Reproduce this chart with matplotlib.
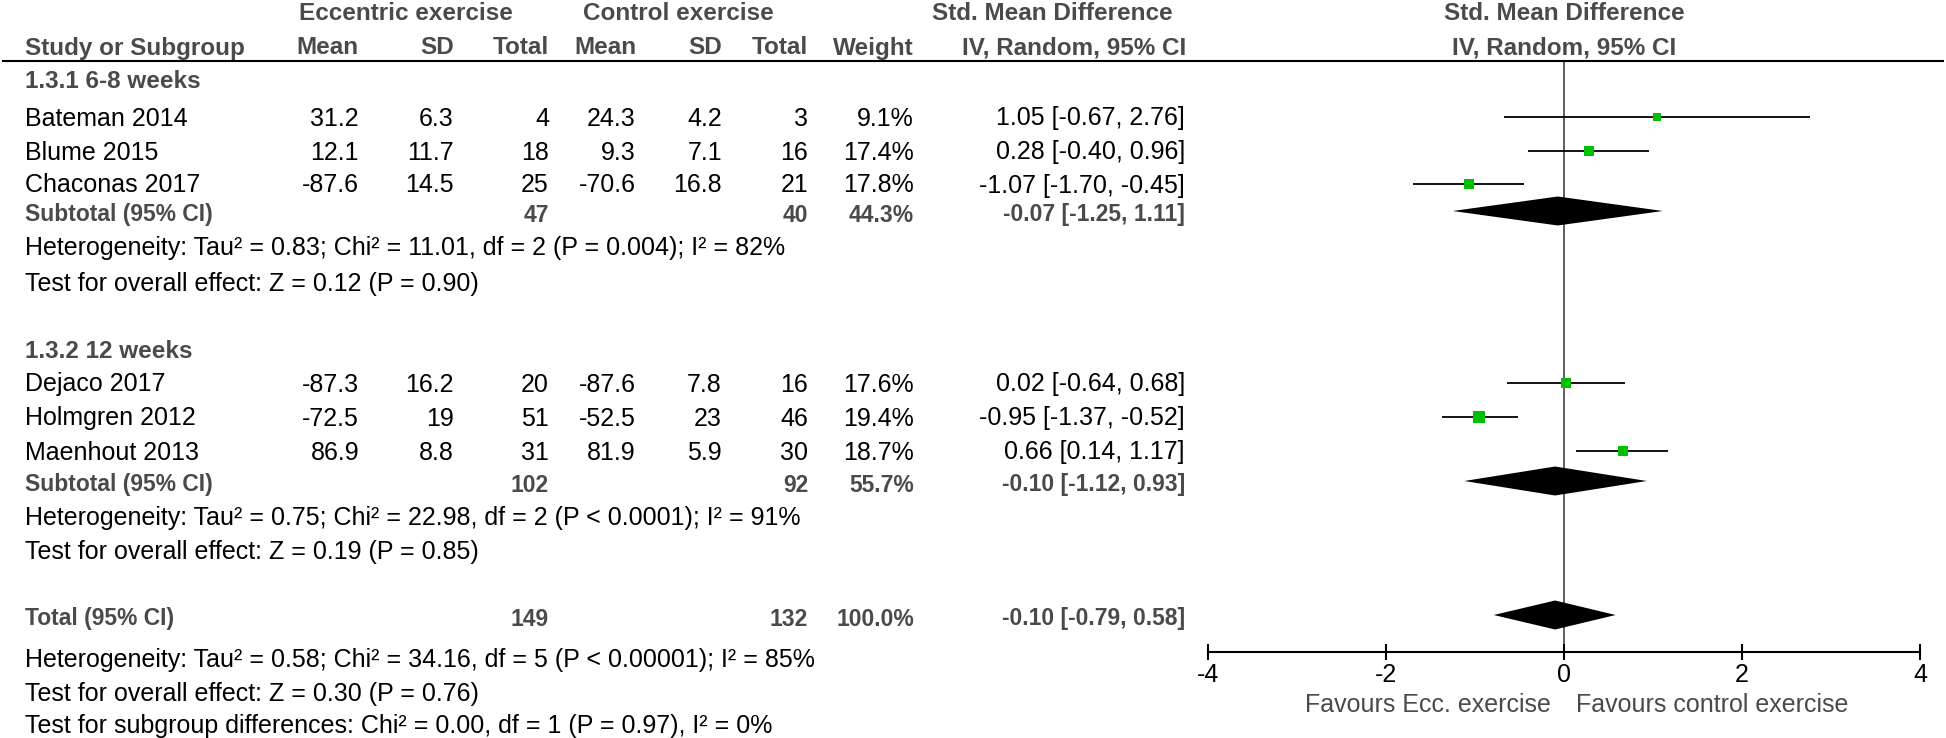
import matplotlib.pyplot as plt

plt.rcParams['font.family'] = ['Liberation Sans', 'DejaVu Sans']
plt.rcParams['axes.unicode_minus'] = False

# study data
studies = ["Bateman 2014", "Blume 2015", "Chaconas 2017",
           "Dejaco 2017", "Holmgren 2012", "Maenhout 2013"]
ecc_mean = [31.2, 12.1, -87.6, -87.3, -72.5, 86.9]
ecc_sd = [6.3, 11.7, 14.5, 16.2, 19, 8.8]
ecc_n = [4, 18, 25, 20, 51, 31]
ctl_mean = [24.3, 9.3, -70.6, -87.6, -52.5, 81.9]
ctl_sd = [4.2, 7.1, 16.8, 7.8, 23, 5.9]
ctl_n = [3, 16, 21, 16, 46, 30]
weight = [9.1, 17.4, 17.8, 17.6, 19.4, 18.7]
smd = [1.05, 0.28, -1.07, 0.02, -0.95, 0.66]
ci_lo = [-0.67, -0.40, -1.70, -0.64, -1.37, 0.14]
ci_hi = [2.76, 0.96, -0.45, 0.68, -0.52, 1.17]

# subtotals and total
pooled_labels = ["Subtotal (95% CI)", "Subtotal (95% CI)", "Total (95% CI)"]
pooled_ecc_n = [47, 102, 149]
pooled_ctl_n = [40, 92, 132]
pooled_weight = [44.3, 55.7, 100.0]
pooled_smd = [-0.07, -0.10, -0.10]
pooled_lo = [-1.25, -1.12, -0.79]
pooled_hi = [1.11, 0.93, 0.58]

groups = ["1.3.1 6-8 weeks", "1.3.2 12 weeks"]
notes = [
    "Heterogeneity: Tau\u00b2 = 0.83; Chi\u00b2 = 11.01, df = 2 (P = 0.004); I\u00b2 = 82%",
    "Test for overall effect: Z = 0.12 (P = 0.90)",
    "Heterogeneity: Tau\u00b2 = 0.75; Chi\u00b2 = 22.98, df = 2 (P < 0.0001); I\u00b2 = 91%",
    "Test for overall effect: Z = 0.19 (P = 0.85)",
    "Heterogeneity: Tau\u00b2 = 0.58; Chi\u00b2 = 34.16, df = 5 (P < 0.00001); I\u00b2 = 85%",
    "Test for overall effect: Z = 0.30 (P = 0.76)",
    "Test for subgroup differences: Chi\u00b2 = 0.00, df = 1 (P = 0.97), I\u00b2 = 0%",
]
ticks = [-4, -2, 0, 2, 4]

# layout (pixel rows / columns)
study_y = [117, 151, 184, 383, 417, 451]
pooled_y = [213, 483, 617]
group_y = [79, 350]
note_y = [247, 282, 516, 551, 658, 692, 725]
col_x = [359, 454, 549, 636, 722, 808, 914, 1185]

FS = 18
FS_HEAD = 17.5
FS_SUB = 16.5
GREY = '#4a4a4a'
GREEN = '#00c000'

fig = plt.figure(figsize=(19.46, 7.38), dpi=100)
ax = fig.add_axes([0, 0, 1, 1])
ax.set_xlim(0, 1946)
ax.set_ylim(738, 0)
ax.axis('off')


def put(x, y, s, ha='left', bold=False, color=None, size=FS):
    if color is None:
        color = GREY if bold else 'black'
    ax.text(x, y + 8.5, s, ha=ha, va='baseline', fontsize=size,
            fontweight='bold' if bold else 'normal', color=color)


# headers
put(406, 12, "Eccentric exercise", ha='center', bold=True, size=FS_HEAD)
put(678, 12, "Control exercise", ha='center', bold=True, size=FS_HEAD)
put(1052, 12, "Std. Mean Difference", ha='center', bold=True, size=FS_HEAD)
put(1564, 12, "Std. Mean Difference", ha='center', bold=True, size=FS_HEAD)
put(25, 46, "Study or Subgroup", bold=True, size=FS_HEAD)
for x, h in zip(col_x[:7], ["Mean", "SD", "Total", "Mean", "SD", "Total", "Weight"]):
    put(x, 46, h, ha='right', bold=True, size=FS_HEAD)
put(1186, 46, "IV, Random, 95% CI", ha='right', bold=True, size=FS_HEAD)
put(1564, 46, "IV, Random, 95% CI", ha='center', bold=True, size=FS_HEAD)
ax.hlines(61, 2, 1944, color='black', lw=1.5)

for g, y in zip(groups, group_y):
    put(25, y, g, bold=True, size=FS_HEAD)

for i, name in enumerate(studies):
    y = study_y[i]
    put(25, y, name)
    vals = [f"{ecc_mean[i]:g}", f"{ecc_sd[i]:g}", f"{ecc_n[i]}",
            f"{ctl_mean[i]:g}", f"{ctl_sd[i]:g}", f"{ctl_n[i]}",
            f"{weight[i]:.1f}%",
            f"{smd[i]:.2f} [{ci_lo[i]:.2f}, {ci_hi[i]:.2f}]"]
    for x, v in zip(col_x, vals):
        put(x, y, v, ha='right')

for i, lab in enumerate(pooled_labels):
    y = pooled_y[i]
    put(25, y, lab, bold=True, size=FS_SUB)
    put(col_x[2], y, f"{pooled_ecc_n[i]}", ha='right', bold=True, size=FS_SUB)
    put(col_x[5], y, f"{pooled_ctl_n[i]}", ha='right', bold=True, size=FS_SUB)
    put(col_x[6], y, f"{pooled_weight[i]:.1f}%", ha='right', bold=True, size=FS_SUB)
    put(col_x[7], y, f"{pooled_smd[i]:.2f} [{pooled_lo[i]:.2f}, {pooled_hi[i]:.2f}]",
        ha='right', bold=True, size=FS_SUB)

for s, y in zip(notes, note_y):
    put(25, y, s)

put(1551, 704, "Favours Ecc. exercise", ha='right', color=GREY, size=18)
put(1576, 704, "Favours control exercise", color=GREY, size=18)

# forest panel
fx = fig.add_axes([1208 / 1946, 0, 712 / 1946, 1])
fx.set_xlim(-4, 4)
fx.set_ylim(738, 0)
fx.patch.set_alpha(0)
for side in ['top', 'left', 'right']:
    fx.spines[side].set_visible(False)
fx.spines['bottom'].set_position(('data', 652))
fx.spines['bottom'].set_bounds(-4, 4)
fx.spines['bottom'].set_linewidth(1.5)
fx.set_yticks([])
fx.set_xticks(ticks)
fx.set_xticklabels([str(t) for t in ticks])
fx.tick_params(axis='x', direction='inout', length=12, width=1.5,
               labelsize=FS, pad=2)

fx.vlines(0, 62, 652, color='#333333', lw=1.1, zorder=1)

for i in range(len(studies)):
    y = study_y[i]
    fx.hlines(y, ci_lo[i], ci_hi[i], color='black', lw=1.3, zorder=2)
    fx.plot(smd[i], y, marker='s', ms=1.8 * weight[i] ** 0.5,
            color=GREEN, mec=GREEN, mew=0, zorder=3)

for i in range(len(pooled_smd)):
    y = pooled_y[i] - 2
    m, lo, hi = pooled_smd[i], pooled_lo[i], pooled_hi[i]
    fx.fill([lo, m, hi, m], [y, y - 14.5, y, y + 14.5], color='black', lw=0, zorder=2)

fig.savefig("out.png", dpi=100)
